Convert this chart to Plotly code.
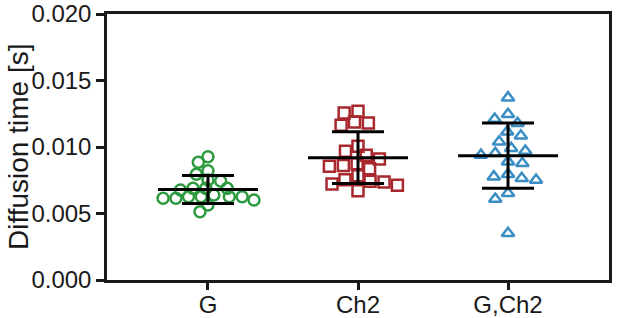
import math
import plotly.graph_objects as go

# ---- data ----
categories = ["G", "Ch2", "G,Ch2"]

g_values = [0.00927, 0.00885, 0.00822, 0.00795, 0.00752, 0.00744, 0.00689, 0.00677,
            0.00689, 0.00689, 0.00626, 0.00614, 0.00602, 0.00639, 0.00626, 0.00626,
            0.00614, 0.00626, 0.00564, 0.00514]
ch2_values = [0.01256, 0.01268, 0.01180, 0.01163, 0.01188, 0.01005, 0.00938, 0.00968,
              0.00910, 0.00875, 0.00855, 0.00837, 0.00860, 0.00784, 0.00742, 0.00722,
              0.00712, 0.00737, 0.00754, 0.00671]
gch2_values = [0.01371, 0.01246, 0.01211, 0.01178, 0.01115, 0.01085, 0.01040, 0.00990,
               0.00953, 0.00970, 0.00940, 0.00890, 0.00877, 0.00777, 0.00752, 0.00765,
               0.00795, 0.00652, 0.00609, 0.00351]

means = [0.00680, 0.00920, 0.00935]
sds = [0.00105, 0.00195, 0.00245]

y_ticks = [0.000, 0.005, 0.010, 0.015, 0.020]

# ---- styling ----
W, H = 617, 318
ML, MR, MT, MB = 107, 8, 14, 38
X_RANGE = [-0.673, 2.673]
Y_RANGE = [0.0, 0.020]
px_per_x = (W - ML - MR) / (X_RANGE[1] - X_RANGE[0])
px_per_y = (H - MT - MB) / (Y_RANGE[1] - Y_RANGE[0])

colors = ["#2e9a40", "#a8282e", "#3a8ec3"]
symbols = ["circle-open", "square-open", "triangle-up-open"]
msizes = [11, 11, 11]
DX_MIN = [12.8, 14.0, 14.5]   # horizontal spacing of neighbouring points in a row (px)
DY_MIN = [8.5, 11.0, 12.0]    # vertical clearance (px)


def swarm_offsets(values, dxm, dym):
    """Beeswarm with an elliptical clearance: points may overlap a little vertically."""
    order = sorted(range(len(values)), key=lambda i: -values[i])
    placed = []
    offs = [0.0] * len(values)

    def clear(c, y):
        return all(((c - px) / dxm) ** 2 + ((y - py) / dym) ** 2 >= 1 - 1e-6
                   for (px, py) in placed)

    for i in order:
        y = values[i] * px_per_y
        cands = [0.0]
        for (px, py) in placed:
            dy = abs(py - y)
            if dy < dym:
                dx = dxm * math.sqrt(1 - (dy / dym) ** 2)
                cands += [px + dx, px - dx]
        cands.sort(key=lambda c: (abs(c), c))
        for c in cands:
            if clear(c, y):
                placed.append((c, y))
                offs[i] = c / px_per_x
                break
    return offs


fig = go.Figure()
all_values = [g_values, ch2_values, gch2_values]
for k, vals in enumerate(all_values):
    offs = swarm_offsets(vals, DX_MIN[k], DY_MIN[k])
    fig.add_trace(go.Scatter(
        x=[k + o for o in offs], y=vals, mode="markers",
        marker=dict(symbol=symbols[k], size=msizes[k], color=colors[k],
                    line=dict(width=2.5, color=colors[k])),
        showlegend=False, hoverinfo="y"))

# mean lines
for k in range(len(categories)):
    fig.add_trace(go.Scatter(
        x=[k - 0.333, k + 0.333], y=[means[k], means[k]], mode="lines",
        line=dict(color="black", width=3), showlegend=False, hoverinfo="skip"))

# SD error bars
fig.add_trace(go.Scatter(
    x=list(range(len(categories))), y=means, mode="markers",
    marker=dict(size=1, color="rgba(0,0,0,0)"),
    error_y=dict(type="data", array=sds, visible=True, color="black",
                 thickness=3, width=26),
    showlegend=False, hoverinfo="skip"))

font_family = "Liberation Sans, Arial, sans-serif"
fig.update_layout(
    width=W, height=H,
    margin=dict(l=ML, r=MR, t=MT, b=MB, pad=0),
    paper_bgcolor="white", plot_bgcolor="white",
    font=dict(family=font_family, size=24, color="#1a1a1a"),
    xaxis=dict(range=X_RANGE, tickmode="array", tickvals=list(range(len(categories))),
               ticktext=categories, showgrid=False, zeroline=False, automargin=False,
               showline=True, linecolor="#1a1a1a", linewidth=2.5, mirror=True,
               ticks="outside", ticklen=7, tickwidth=2.5, tickcolor="#1a1a1a",
               ticklabelstandoff=-6,
               tickfont=dict(size=24)),
    yaxis=dict(range=Y_RANGE, tickmode="array", tickvals=y_ticks,
               ticktext=[f"{v:.3f}" for v in y_ticks], showgrid=False, zeroline=False,
               automargin=False,
               showline=True, linecolor="#1a1a1a", linewidth=2.5, mirror=True,
               ticks="outside", ticklen=8, tickwidth=2.5, tickcolor="#1a1a1a",
               tickfont=dict(size=24)),
    annotations=[dict(text="Diffusion time [s]", xref="paper", yref="paper",
                      x=(18 - ML) / (W - ML - MR), y=0.5, xanchor="center", yanchor="middle",
                      textangle=-90, showarrow=False, font=dict(size=28))],
)

fig.write_html("out.html", config={"displayModeBar": False},
               post_script="document.body.style.margin='0';document.body.style.overflow='hidden';")
